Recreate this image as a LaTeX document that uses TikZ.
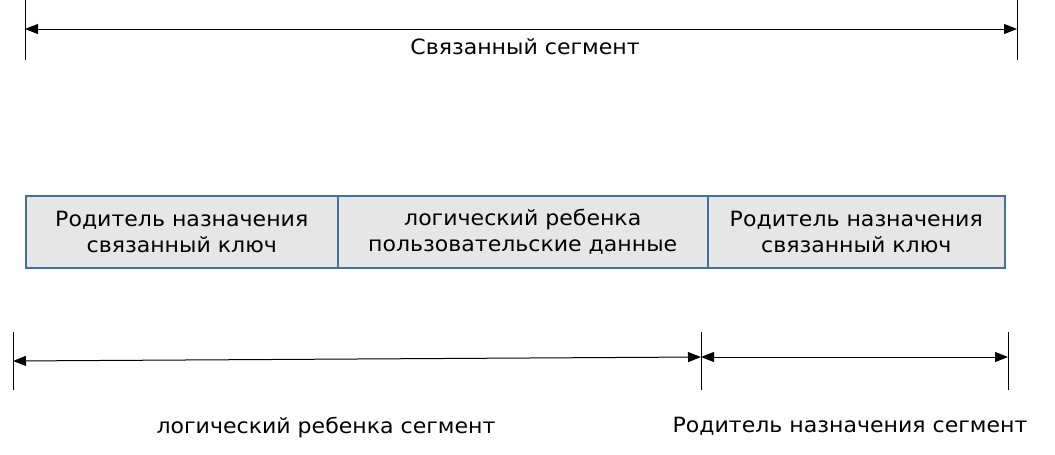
\documentclass[tikz,border=0pt]{standalone}
\usepackage{fontspec}
\setmainfont{DejaVu Sans}[FakeStretch=1.05]
\usetikzlibrary{arrows.meta}
\definecolor{boxblue}{HTML}{41719C}
\definecolor{boxfill}{HTML}{E6E6E6}
\tikzset{
  seg/.style={draw=boxblue, fill=boxfill, line width=1.5pt, minimum height=72pt, inner sep=0pt, anchor=north west, align=center, font=\fontsize{21}{26}\selectfont},
  tick/.style={draw=black, line width=1pt},
  dim/.style={draw=black, line width=1pt, {Triangle[length=13pt,width=10pt]}-{Triangle[length=13pt,width=10pt]}},
  lbl/.style={font=\fontsize{21}{26}\selectfont, inner sep=0pt}
}
\begin{document}
\begin{tikzpicture}[x=1pt,y=-1pt]
\useasboundingbox (0,0) rectangle (1055,455);
% top
\coordinate (t1a) at (25,0); \coordinate (t1b) at (25,60);
\coordinate (t2a) at (1017,0); \coordinate (t2b) at (1017,60);
\draw[tick] (t1a) -- (t1b);
\draw[tick] (t2a) -- (t2b);
\coordinate (ta) at (25,29); \coordinate (tb) at (1017,29);
\draw[dim] (ta) -- (tb);
\node[lbl] (toplbl) at (525,47) {Связанный сегмент};
% boxes
\node[seg, minimum width=312pt] (b1) at (25,195) {Родитель назначения\\связанный ключ};
\node[seg, minimum width=370pt] (b2) at (337,195) {логический ребенка\\пользовательские данные};
\node[seg, minimum width=297pt] (b3) at (707,195) {Родитель назначения\\связанный ключ};
% bottom
\coordinate (s1a) at (13,332); \coordinate (s1b) at (13,390);
\coordinate (s2a) at (701,332); \coordinate (s2b) at (701,390);
\coordinate (s3a) at (1008,332); \coordinate (s3b) at (1008,390);
\draw[tick] (s1a) -- (s1b);
\draw[tick] (s2a) -- (s2b);
\draw[tick] (s3a) -- (s3b);
\coordinate (la) at (13,361); \coordinate (lb) at (701,357);
\draw[dim] (la) -- (lb);
\coordinate (ra) at (701,357); \coordinate (rb) at (1008,357);
\draw[dim] (ra) -- (rb);
\node[lbl] (llbl) at (326,428) {логический ребенка сегмент};
\node[lbl] (rlbl) at (850,426) {Родитель назначения сегмент};
\end{tikzpicture}
\end{document}
